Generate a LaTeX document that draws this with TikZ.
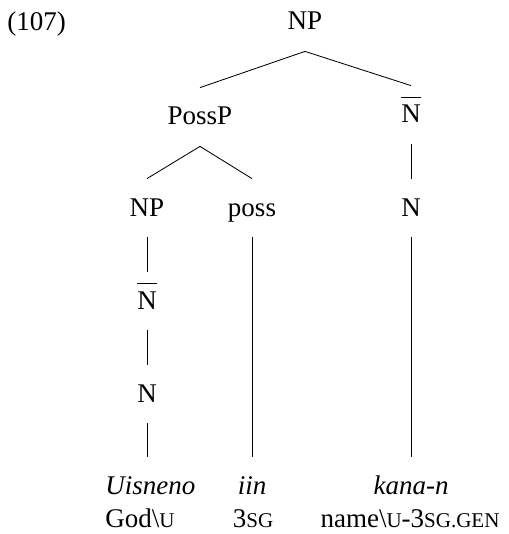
\documentclass[tikz,border=0pt]{standalone}
\usepackage{fontspec}
\setmainfont{Liberation Serif}
\newcommand\fsc[1]{{\fontsize{10.5}{12}\selectfont #1}}
\newcommand\barN{\setbox0\hbox{N}\rlap{\rule[12.3pt]{\wd0}{0.6pt}}N}
\begin{document}
\begin{tikzpicture}[x=0.5pt,y=-0.5pt,
  lab/.style={font=\fontsize{13.5}{16}\selectfont, text height=13.5pt, text depth=5.5pt, inner xsep=1pt, inner ysep=5pt, anchor=base},
  edge/.style={line width=0.42pt}]
\useasboundingbox (0,0) rectangle (508,534);
% example number
\node[lab, anchor=base west, inner xsep=0pt] (num) at (7,31) {(107)};
% tree nodes
\node[lab] (np1) at (305,30) {NP};
\node[lab] (possp) at (200,125) {PossP};
\node[lab] (nbar1) at (411,123) {\barN};
\node[lab] (np2) at (147,216) {NP};
\node[lab] (poss) at (252,216) {poss};
\node[lab] (n1) at (411,216) {N};
\node[lab] (nbar2) at (147,309) {\barN};
\node[lab] (n2) at (147,402) {N};
% words
\node[lab, anchor=base west, inner xsep=0pt] (w1) at (105,494) {\itshape Uisneno};
\node[lab] (w2) at (252,494) {\itshape iin};
\node[lab] (w3) at (411,494) {\itshape kana-n};
% glosses
\node[lab, anchor=base west, inner xsep=0pt] (g1) at (105,527) {God\textbackslash\fsc{U}};
\node[lab] (g2) at (253,527) {3\fsc{SG}};
\node[lab] (g3) at (410,527) {name\textbackslash\fsc{U}-3\fsc{SG.GEN}};
% edges
\draw[edge] (np1.south) -- (possp.north);
\draw[edge] (np1.south) -- (nbar1.north);
\draw[edge] (possp.south) -- (np2.north);
\draw[edge] (possp.south) -- (poss.north);
\draw[edge] (nbar1.south) -- (n1.north);
\draw[edge] (np2.south) -- (nbar2.north);
\draw[edge] (nbar2.south) -- (n2.north);
\draw[edge] (n2.south) -- (n2.south |- w1.north);
\draw[edge] (poss.south) -- (w2.north);
\draw[edge] (n1.south) -- (w3.north);
\end{tikzpicture}
\end{document}
